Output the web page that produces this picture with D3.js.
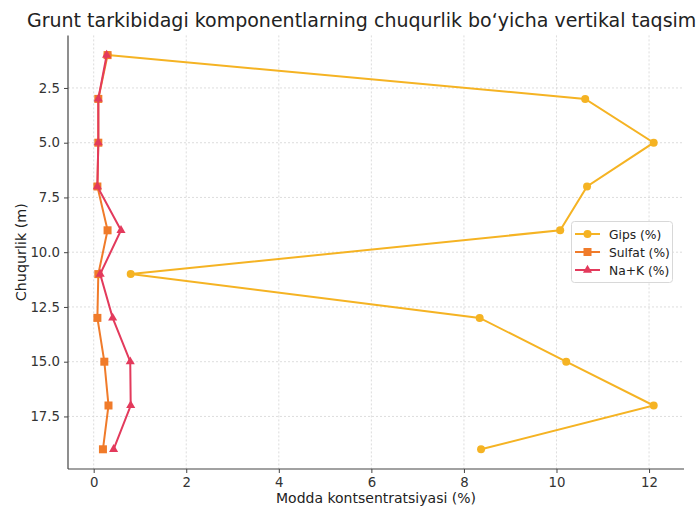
<!DOCTYPE html>
<html><head><meta charset="utf-8">
<script src="https://cdn.jsdelivr.net/npm/d3@7"></script>
<style>
html,body{margin:0;padding:0;background:#fff;}
svg{display:block;font-family:"DejaVu Sans",sans-serif;}
</style></head>
<body>
<svg id="chart" width="696" height="506"></svg>
<script>
const depths = [1, 3, 5, 7, 9, 11, 13, 15, 17, 19];
const gips = [0.3, 10.62, 12.1, 10.66, 10.08, 0.8, 8.34, 10.21, 12.1, 8.37];
const sulfat = [0.3, 0.1, 0.1, 0.08, 0.3, 0.1, 0.08, 0.23, 0.32, 0.2];
const naK = [0.28, 0.1, 0.1, 0.08, 0.59, 0.14, 0.41, 0.79, 0.8, 0.43];
const seriesNames = ["Gips (%)", "Sulfat (%)", "Na+K (%)"];
const seriesColors = ["#f5b323", "#f07b2a", "#e33a5c"];
const seriesShapes = ["circle", "square", "triangle"];
const xTicks = [0, 2, 4, 6, 8, 10, 12];
const yTicks = [2.5, 5.0, 7.5, 10.0, 12.5, 15.0, 17.5];
const titleText = "Grunt tarkibidagi komponentlarning chuqurlik bo‘yicha vertikal taqsimoti";
const xLabel = "Modda kontsentratsiyasi (%)";
const yLabel = "Chuqurlik (m)";

const svg = d3.select("#chart");
const L = 68, R = 684, T = 35.4, B = 469;
const x = d3.scaleLinear().domain([-0.555, 12.755]).range([L, R]);
const y = d3.scaleLinear().domain([0.1, 19.9]).range([T, B]);

// grid
const grid = svg.append("g");
grid.selectAll(".gx").data(xTicks).enter().append("line")
  .attr("x1", d => x(d)).attr("x2", d => x(d)).attr("y1", T).attr("y2", B)
  .attr("stroke", "#d4d4d4").attr("stroke-width", 0.8).attr("stroke-dasharray", "2,2");
grid.selectAll(".gy").data(yTicks).enter().append("line")
  .attr("x1", L).attr("x2", R).attr("y1", d => y(d)).attr("y2", d => y(d))
  .attr("stroke", "#d4d4d4").attr("stroke-width", 0.8).attr("stroke-dasharray", "2,2");

// axes
const xAxis = svg.append("g").attr("transform", `translate(0,${B})`)
  .call(d3.axisBottom(x).tickValues(xTicks).tickFormat(d3.format("d")).tickSizeOuter(0).tickSize(4).tickPadding(5));
const yAxis = svg.append("g").attr("transform", `translate(${L},0)`)
  .call(d3.axisLeft(y).tickValues(yTicks).tickFormat(d3.format(".1f")).tickSizeOuter(0).tickSize(4).tickPadding(4));
[xAxis, yAxis].forEach(a => {
  a.select(".domain").attr("stroke", "#444").attr("stroke-width", 1.2);
  a.selectAll(".tick line").attr("stroke", "#444");
  a.selectAll(".tick text").attr("fill", "#333").style("font-size", "13.3px").style("font-family", "DejaVu Sans");
});
xAxis.select(".domain").attr("d", `M${L},0H${R}`);
yAxis.select(".domain").attr("d", `M0,${T}V${B}`);

// title & labels
svg.append("text").attr("x", 27).attr("y", 27).attr("text-anchor", "start")
  .style("font-size", "19px").attr("fill", "#222").text(titleText);
svg.append("text").attr("x", (L + R) / 2).attr("y", 502.5).attr("text-anchor", "middle")
  .style("font-size", "14px").attr("fill", "#222").text(xLabel);
svg.append("text").attr("transform", `translate(26,${(T + B) / 2}) rotate(-90)`).attr("text-anchor", "middle")
  .style("font-size", "14.3px").attr("fill", "#222").text(yLabel);

function marker(g, shape, color, cx, cy) {
  if (shape === "circle") {
    g.append("circle").attr("cx", cx).attr("cy", cy).attr("r", 4).attr("fill", color);
  } else if (shape === "square") {
    g.append("rect").attr("x", cx - 4).attr("y", cy - 4).attr("width", 8).attr("height", 8).attr("fill", color);
  } else {
    g.append("path").attr("d", d3.symbol().type(d3.symbolTriangle).size(36)()).attr("transform", `translate(${cx},${cy})`).attr("fill", color);
  }
}

const allSeries = [gips, sulfat, naK];
const line = d3.line().x(d => x(d[0])).y(d => y(d[1]));
allSeries.forEach((vals, i) => {
  const pts = vals.map((v, j) => [v, depths[j]]);
  const g = svg.append("g");
  g.append("path").attr("d", line(pts)).attr("fill", "none").attr("stroke", seriesColors[i]).attr("stroke-width", 2);
  pts.forEach(p => marker(g, seriesShapes[i], seriesColors[i], x(p[0]), y(p[1])));
});

// legend
const lg = svg.append("g");
lg.append("rect").attr("x", 571.5).attr("y", 221.5).attr("width", 101).attr("height", 61).attr("rx", 3)
  .attr("fill", "#fff").attr("fill-opacity", 0.8).attr("stroke", "#d8d8d8");
seriesNames.forEach((n, i) => {
  const yy = 234 + i * 18;
  lg.append("line").attr("x1", 575).attr("x2", 600).attr("y1", yy).attr("y2", yy).attr("stroke", seriesColors[i]).attr("stroke-width", 2);
  marker(lg, seriesShapes[i], seriesColors[i], 587.5, yy);
  lg.append("text").attr("x", 609).attr("y", yy + 4.5).style("font-size", "12.3px").attr("fill", "#222").text(n);
});
</script>
</body></html>
